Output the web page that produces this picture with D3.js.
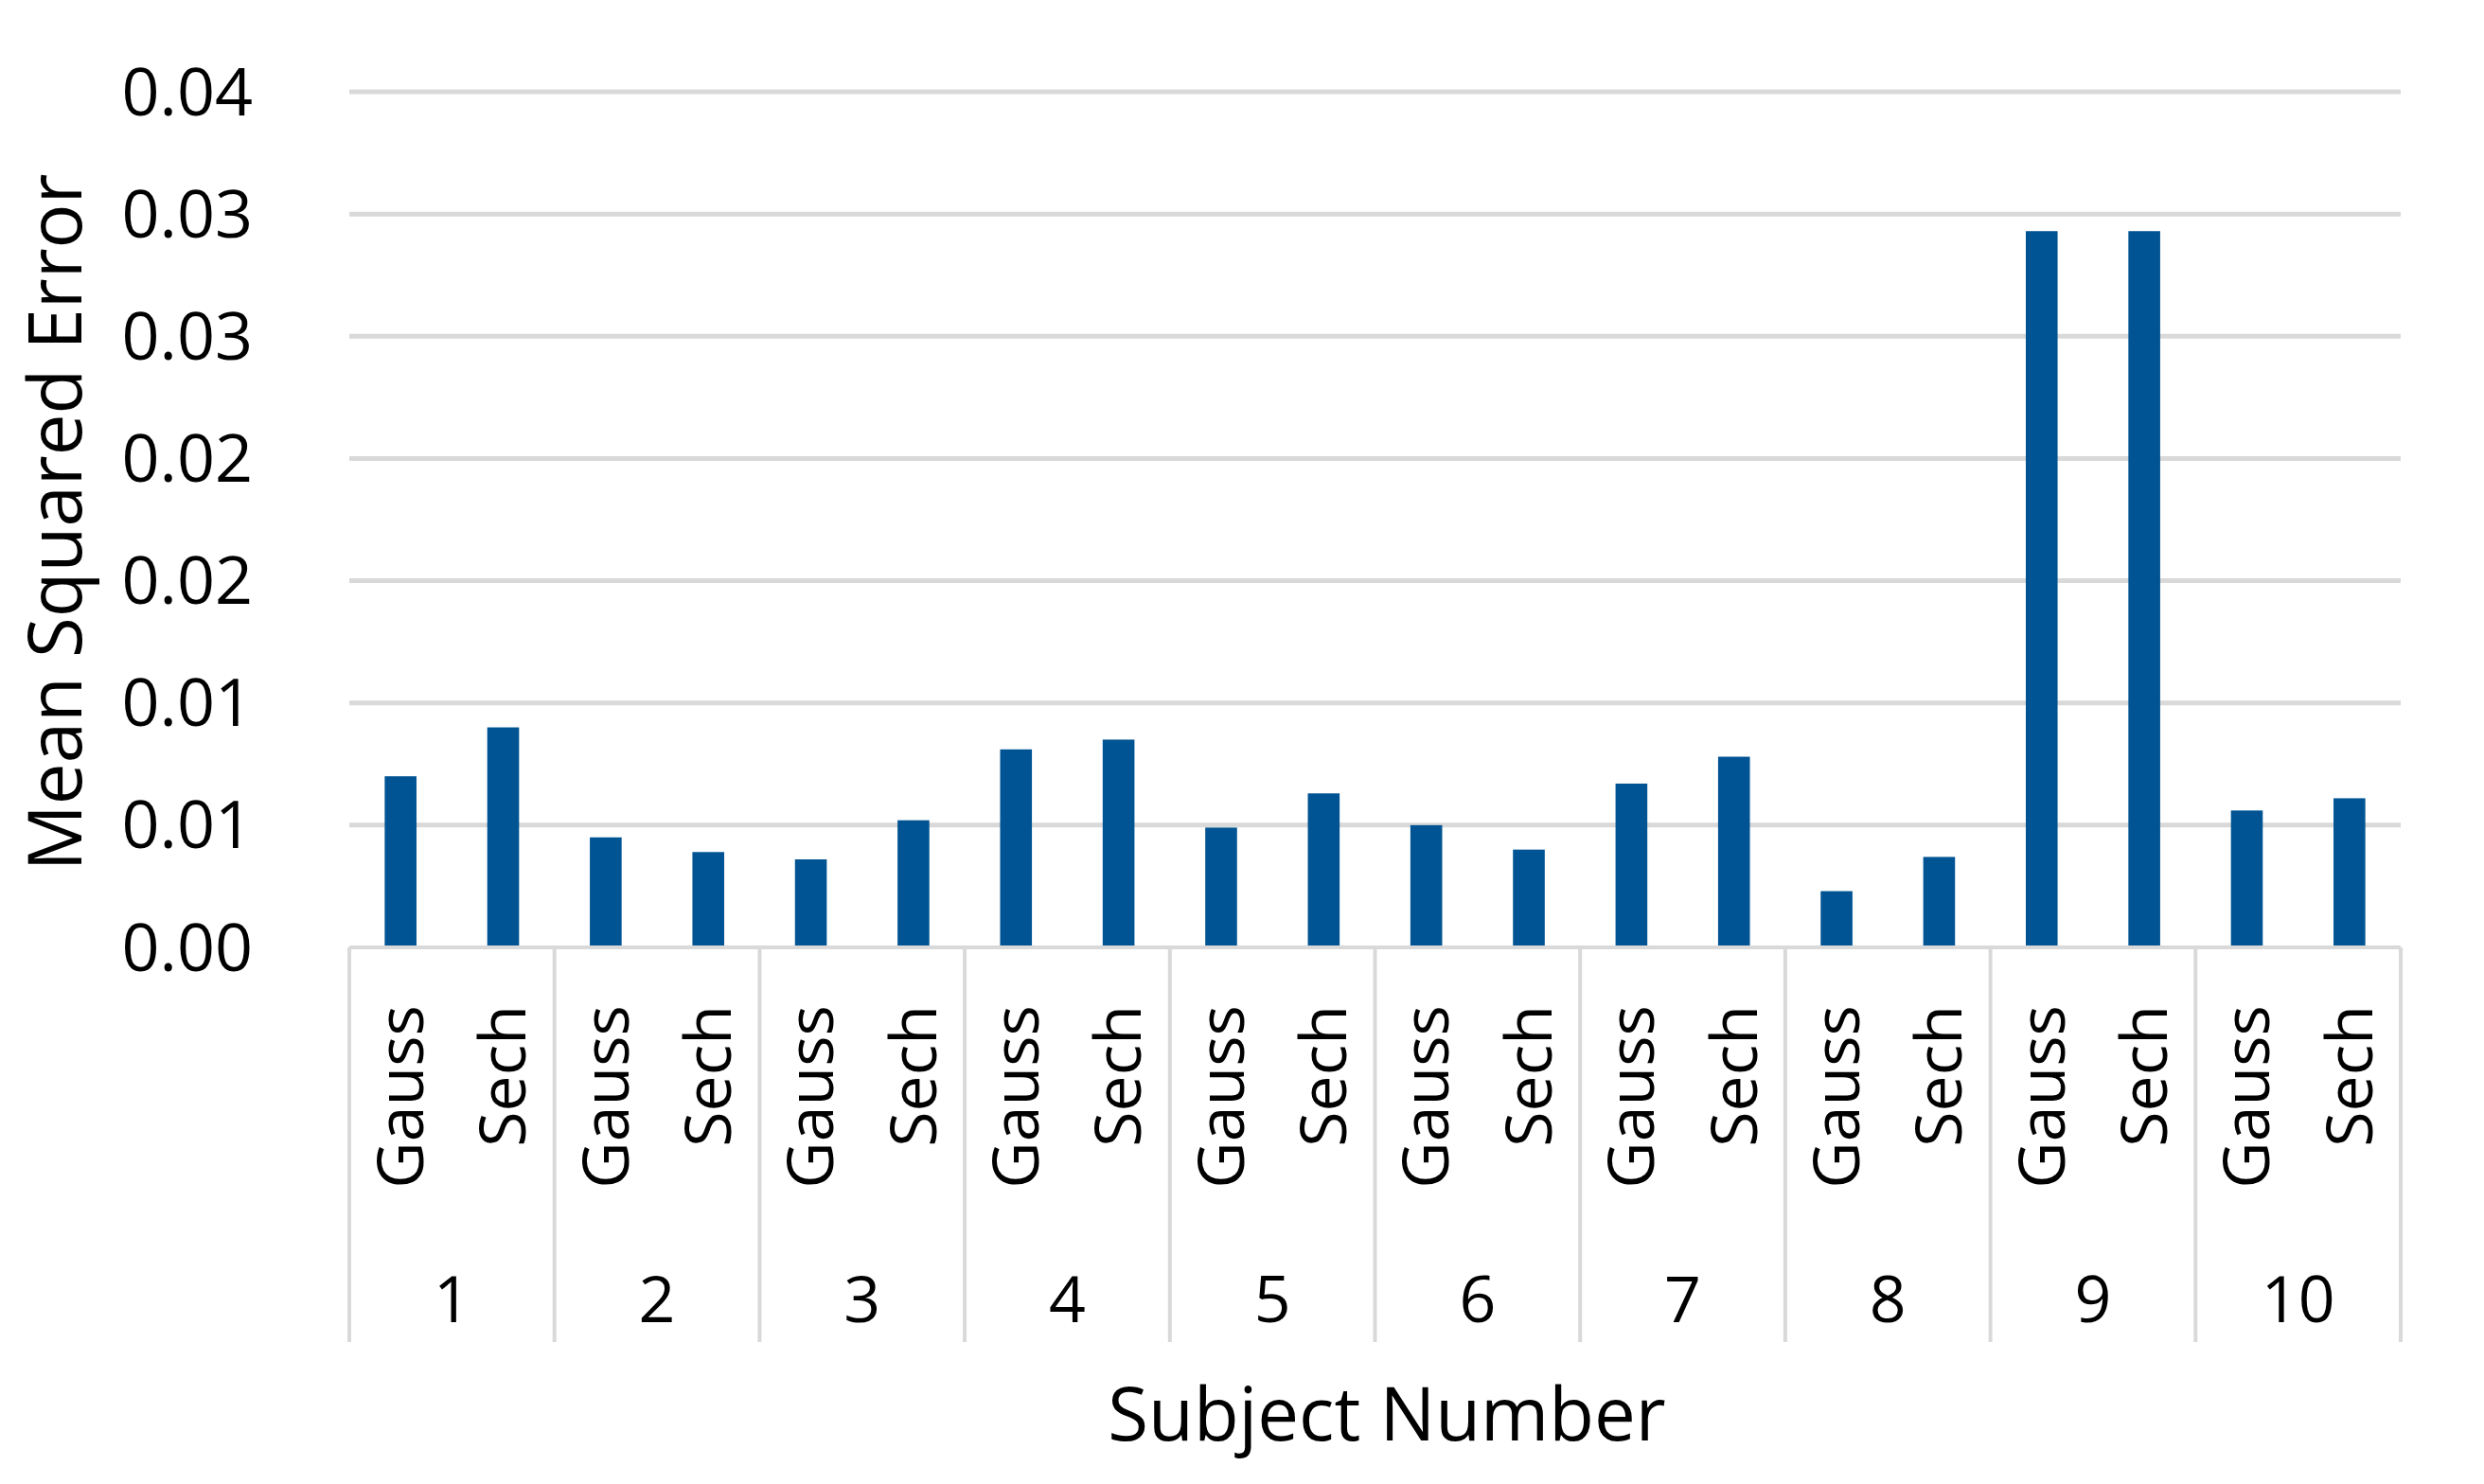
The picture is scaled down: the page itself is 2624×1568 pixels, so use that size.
<!DOCTYPE html>
<html>
<head>
<meta charset="utf-8">
<script src="https://cdn.jsdelivr.net/npm/d3@7"></script>
<style>
  body { margin: 0; background: #fff; }
  text { font-family: "Open Sans", "Noto Sans", sans-serif; fill: #000; }
</style>
</head>
<body>
<div id="chart"></div>
<script>
// data
const subjects = ['1', '2', '3', '4', '5', '6', '7', '8', '9', '10'];
const methods = ['Gauss', 'Sech'];
const gaussValues = [0.0070, 0.0045, 0.0036, 0.0081, 0.0049, 0.0050, 0.0067, 0.0023, 0.0293, 0.0056];
const sechValues = [0.0090, 0.0039, 0.0052, 0.0085, 0.0063, 0.0040, 0.0078, 0.0037, 0.0293, 0.0061];
const tickValues = [0, 0.005, 0.01, 0.015, 0.02, 0.025, 0.03, 0.035];
const tickLabels = ['0.00', '0.01', '0.01', '0.02', '0.02', '0.03', '0.03', '0.04'];

const width = 2624, height = 1568;
const margin = { top: 97, right: 88, bottom: 567, left: 369 };

const svg = d3.select('#chart')
    .append('svg')
    .attr('width', width)
    .attr('height', height);

const x = d3.scaleBand()
    .domain(subjects)
    .range([margin.left, width - margin.right]);

const xInner = d3.scaleBand()
    .domain(methods)
    .range([0, x.bandwidth()])
    .paddingInner(0.69)
    .paddingOuter(0.345);

const y = d3.scaleLinear()
    .domain([0, 0.035])
    .range([height - margin.bottom, margin.top]);

// gridlines
svg.append('g')
    .selectAll('line')
    .data(tickValues.slice(1))
    .enter()
    .append('line')
    .attr('x1', margin.left)
    .attr('x2', width - margin.right)
    .attr('y1', (d) => y(d))
    .attr('y2', (d) => y(d))
    .attr('stroke', '#d9d9d9')
    .attr('stroke-width', 5);

// y tick labels
svg.append('g')
    .selectAll('text')
    .data(tickValues)
    .enter()
    .append('text')
    .attr('x', 267)
    .attr('y', (d) => y(d))
    .attr('dy', '0.35em')
    .attr('text-anchor', 'end')
    .style('font-size', '70px')
    .text((d, i) => tickLabels[i]);

// bars
const rows = subjects.map((s, i) => ({ subject: s, values: [gaussValues[i], sechValues[i]] }));
const groups = svg.append('g')
    .selectAll('g')
    .data(rows)
    .enter()
    .append('g')
    .attr('transform', (d) => `translate(${x(d.subject)},0)`);

groups.selectAll('rect')
    .data((d) => d.values.map((v, j) => ({ method: methods[j], value: v })))
    .enter()
    .append('rect')
    .attr('x', (d) => xInner(d.method))
    .attr('width', xInner.bandwidth())
    .attr('y', (d) => y(d.value))
    .attr('height', (d) => y(0) - y(d.value))
    .attr('fill', '#005493');

// category axis lines
const axisBottom = 1418;
const axis = svg.append('g').attr('stroke', '#d9d9d9').attr('stroke-width', 4);
axis.append('line')
    .attr('x1', margin.left).attr('x2', width - margin.right)
    .attr('y1', y(0)).attr('y2', y(0));
axis.selectAll('.sep')
    .data(subjects.map((s) => x(s)).concat([width - margin.right]))
    .enter()
    .append('line')
    .attr('x1', (d) => d).attr('x2', (d) => d)
    .attr('y1', y(0)).attr('y2', axisBottom);

// method labels, rotated
groups.selectAll('.method')
    .data(methods)
    .enter()
    .append('text')
    .attr('transform', (d) => `translate(${xInner(d) + xInner.bandwidth() / 2},1062) rotate(-90)`)
    .attr('dy', '0.35em')
    .attr('text-anchor', 'end')
    .style('font-size', '68px')
    .text((d) => d);

// subject numbers
groups.append('text')
    .attr('x', x.bandwidth() / 2)
    .attr('y', 1373)
    .attr('dy', '0.35em')
    .attr('text-anchor', 'middle')
    .style('font-size', '68px')
    .text((d) => d.subject);

// axis titles
svg.append('text')
    .attr('x', 1465)
    .attr('y', 1495)
    .attr('dy', '0.35em')
    .attr('text-anchor', 'middle')
    .style('font-size', '78px')
    .text('Subject Number');

svg.append('text')
    .attr('transform', 'translate(59,552) rotate(-90)')
    .attr('dy', '0.35em')
    .attr('text-anchor', 'middle')
    .style('font-size', '78px')
    .text('Mean Squared Error');
</script>
</body>
</html>
